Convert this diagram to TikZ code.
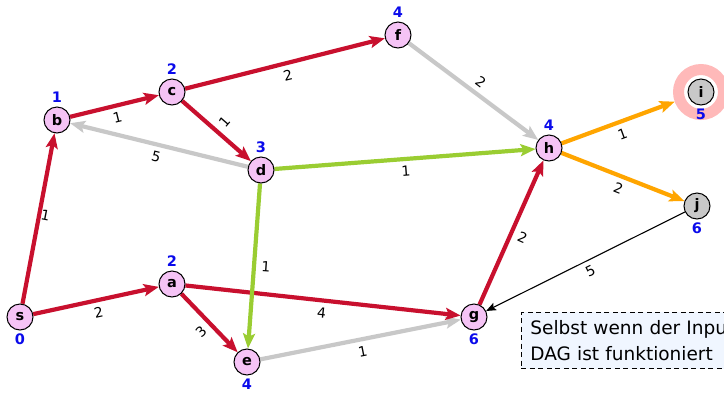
\documentclass[tikz,border=0pt]{standalone}
\usepackage{fontspec}
\setmainfont{DejaVu Sans}
\usetikzlibrary{arrows.meta,backgrounds}
\definecolor{nodepink}{RGB}{245,195,245}
\definecolor{nodegrey}{RGB}{200,200,200}
\definecolor{edred}{RGB}{200,16,46}
\definecolor{edgreen}{RGB}{154,205,50}
\definecolor{edorange}{RGB}{255,165,0}
\definecolor{edgrey}{RGB}{200,200,200}
\definecolor{halopink}{RGB}{255,185,185}
\definecolor{distblue}{RGB}{10,10,235}
\definecolor{notefill}{RGB}{240,246,255}
\begin{document}
\begin{tikzpicture}[x=1pt,y=-1pt,
  vtx/.style={circle,draw=black,line width=1pt,fill=nodepink,minimum size=26pt,inner sep=0pt,font=\fontsize{14.5}{14.5}\selectfont\bfseries},
  gvtx/.style={vtx,fill=nodegrey},
  dl/.style={text=distblue,font=\fontsize{14.5}{14.5}\selectfont\bfseries},
  ed/.style={line width=4.2pt,-{Stealth[length=15pt,width=12pt,inset=3pt]}},
  redE/.style={ed,draw=edred,fill=edred},
  greenE/.style={ed,draw=edgreen,fill=edgreen},
  orangeE/.style={ed,draw=edorange,fill=edorange},
  greyE/.style={ed,draw=edgrey,fill=edgrey},
  thinE/.style={line width=1.1pt,draw=black,-{Stealth[length=10pt,width=8pt,inset=2pt]}},
  wl/.style={font=\fontsize{14}{14}\selectfont,inner sep=1pt,text=black},
  notebox/.style={draw=black,line width=0.8pt,dash pattern=on 5pt off 3.5pt,fill=notefill,anchor=north west,align=left,inner xsep=9pt,inner ysep=8pt,text width=240pt,font=\fontsize{18.5}{26}\selectfont}
]
\useasboundingbox (0,0) rectangle (724,392);
\clip (0,0) rectangle (724,392);

\node[vtx,label={[dl]below:0}] (s) at (20,317) {s};
\node[vtx,label={[dl]above:1}] (b) at (57,120) {b};
\node[vtx,label={[dl]above:2}] (c) at (172,92) {c};
\node[vtx,label={[dl]above:4}] (f) at (398,35) {f};
\node[vtx,label={[dl]above:3}] (d) at (261,170) {d};
\node[vtx,label={[dl]above:4}] (h) at (549,148) {h};
\node[vtx,label={[dl]above:2}] (a) at (172,284) {a};
\node[vtx,label={[dl]below:4}] (e) at (247,362) {e};
\node[vtx,label={[dl]below:6}] (g) at (474,317) {g};
\node[gvtx,label={[dl]below:6}] (j) at (697,206) {j};
\node[circle,draw=halopink,line width=11pt,fill=white,minimum size=45pt,inner sep=0pt] (ih) at (701,92) {};
\node[gvtx,label={[dl]below:5}] (i) at (701,92) {i};

\node[notebox] (note) at (521,312) {Selbst wenn der Input\\DAG ist funktioniert};

\begin{scope}[on background layer]
\draw[greyE] (d) -- node[wl,midway,sloped,below=4pt]{5} (b);
\draw[greyE] (f) -- node[wl,midway,sloped,above=4pt]{2} (h);
\draw[greyE] (e) -- node[wl,midway,sloped,below=4pt]{1} (g);
\draw[redE] (s) -- node[wl,midway,shift={(7,-3)},rotate=-11]{1} (b);
\draw[redE] (s) -- node[wl,midway,sloped,below=4pt]{2} (a);
\draw[redE] (b) -- node[wl,midway,sloped,below=4pt]{1} (c);
\draw[redE] (c) -- node[wl,midway,sloped,below=4pt]{2} (f);
\draw[redE] (c) -- node[wl,midway,shift={(8,-9)},rotate=49]{1} (d);
\draw[redE] (a) -- node[wl,midway,shift={(-8.5,8.5)},rotate=44]{3} (e);
\draw[redE] (a) -- node[wl,midway,sloped,below=4pt]{4} (g);
\draw[redE] (g) -- node[wl,midway,shift={(11,5)},rotate=-24]{2} (h);
\draw[greenE] (d) -- node[wl,midway,sloped,below=4pt]{1} (h);
\draw[greenE] (d) -- node[wl,midway,shift={(12,1)},rotate=-4]{1} (e);
\draw[orangeE] (h) -- node[wl,midway,sloped,below=4pt]{1} (ih);
\draw[orangeE] (h) -- node[wl,midway,sloped,below=4pt]{2} (j);
\draw[thinE] (j) -- node[wl,midway,sloped,below=4pt]{5} (g);
\end{scope}
\end{tikzpicture}
\end{document}
